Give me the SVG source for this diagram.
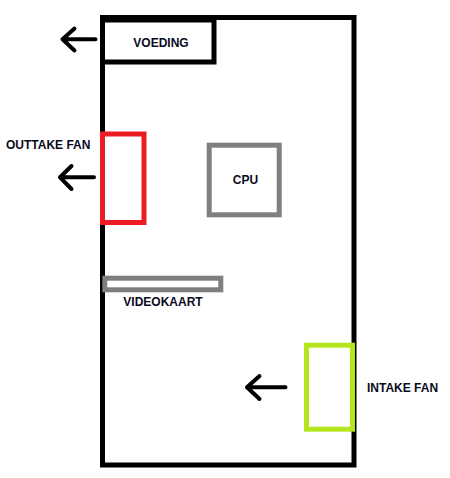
<svg xmlns="http://www.w3.org/2000/svg" width="450" height="478" viewBox="0 0 450 478">
<style>
.lbl{font-family:"Liberation Sans",Arial,sans-serif;font-weight:bold;font-size:12px;fill:#0a0a1e;dominant-baseline:central}
.arr{fill:none;stroke:#000;stroke-width:4;stroke-linecap:round;stroke-linejoin:round}
</style>
<rect width="450" height="478" fill="#fff"/>
<g id="case"><rect x="102.5" y="17.5" width="251.5" height="447.5" fill="none" stroke="#000" stroke-width="5"/></g>
<g id="voeding"><rect x="102.5" y="20" width="111.5" height="42" fill="none" stroke="#000" stroke-width="5"/><text class="lbl" x="161" y="43" text-anchor="middle">VOEDING</text></g>
<g id="outtake"><rect x="102.5" y="134" width="41.5" height="88.5" fill="none" stroke="#ED1C24" stroke-width="5"/><text class="lbl" x="6" y="145">OUTTAKE FAN</text></g>
<g id="cpu"><rect x="209.2" y="145.2" width="70" height="69.6" fill="none" stroke="#7F7F7F" stroke-width="5"/><text class="lbl" x="245.5" y="180" text-anchor="middle">CPU</text></g>
<g id="videokaart"><rect x="104.8" y="278.2" width="116" height="11.6" fill="none" stroke="#7F7F7F" stroke-width="5"/><text class="lbl" x="163" y="301.5" text-anchor="middle">VIDEOKAART</text></g>
<g id="intake"><rect x="306.5" y="345.2" width="46" height="84" fill="none" stroke="#B5E61D" stroke-width="5"/><text class="lbl" x="367" y="387.5">INTAKE FAN</text></g>
<g id="connectors">
<path class="arr" d="M95.5 39.3H62.5M74.5 28.5L62.5 39.3L74.5 50.5"/>
<path class="arr" d="M94 177.3H60M71.5 166L60 177.3L71.5 189"/>
<path class="arr" d="M285.5 387.3H247M259.5 376L247 387.3L259.5 399"/>
</g>
</svg>
